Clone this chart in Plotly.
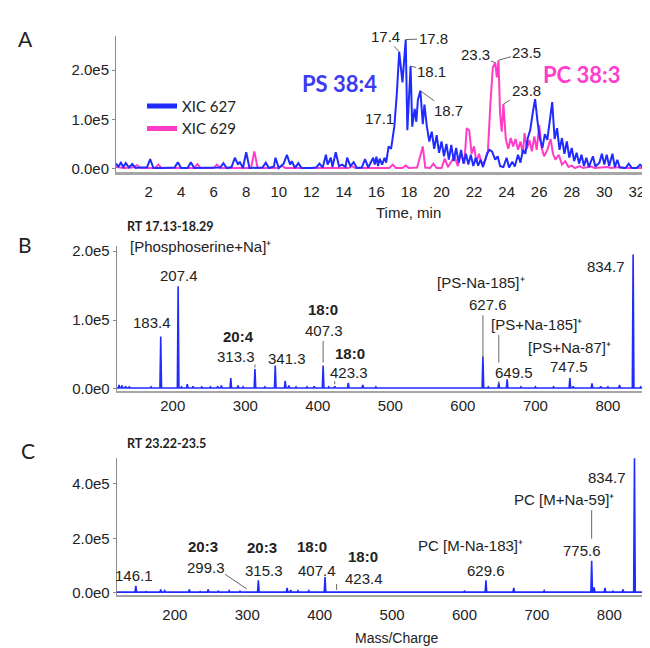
import plotly.graph_objects as go

W, H = 650, 648

# ---------------- data ----------------
# Panel A: extracted ion chromatograms (time in min, intensity in counts)
t627 = [0.0, 0.15, 0.3, 0.45, 0.6, 0.8, 1.0, 1.2, 1.5, 1.9,
        2.1, 2.3, 2.8, 3.4, 3.6, 3.8, 4.0, 4.4, 4.6, 4.8,
        5.5, 6.0, 6.4, 6.6, 6.8, 7.1, 7.3, 7.5, 7.6, 7.8,
        8.0, 8.2, 8.6, 9.0, 9.2, 9.4, 9.7, 9.8, 10.0, 10.3,
        10.5, 10.7, 10.8, 11.0, 11.2, 11.4, 12.0, 12.3, 12.5, 12.7,
        12.9, 13.0, 13.2, 13.3, 13.5, 13.7, 13.9, 14.1, 14.2, 14.4,
        14.6, 14.8, 15.1, 15.3, 15.5, 15.8, 15.9, 16.0, 16.1, 16.2,
        16.35, 16.5, 16.6, 16.75, 16.9, 17.0, 17.1, 17.25, 17.4, 17.6,
        17.8, 17.9, 18.1, 18.2, 18.35, 18.45, 18.55, 18.7, 18.85, 18.95,
        19.1, 19.25, 19.4, 19.55, 19.7, 19.85, 20.0, 20.15, 20.3, 20.45,
        20.6, 20.75, 20.9, 21.05, 21.2, 21.35, 21.5, 21.65, 21.8, 21.95,
        22.1, 22.25, 22.4, 22.55, 22.8, 22.95, 23.1, 23.3, 23.45, 23.6,
        23.8, 24.0, 24.15, 24.35, 24.5, 24.7, 24.85, 25.0, 25.15, 25.3,
        25.45, 25.6, 25.75, 25.9, 26.05, 26.2, 26.35, 26.5, 26.65, 26.8,
        26.95, 27.1, 27.25, 27.4, 27.55, 27.7, 27.85, 28.0, 28.15, 28.3,
        28.45, 28.6, 28.75, 28.9, 29.05, 29.3, 29.45, 29.7, 29.85, 30.0,
        30.15, 30.3, 30.5, 30.65, 30.8, 30.95, 31.3, 31.5, 31.7, 32.0,
        32.2, 32.4, 32.8, 33.2]
xic627 = [10e3, 4e3, 12e3, 3e3, 11e3, 2e3, 9e3, 1e3, 2e3, 2e3,
          19e3, 1e3, 1e3, 1e3, 2e3, 13e3, 1e3, 1e3, 13e3, 1e3,
          1e3, 1e3, 2e3, 11e3, 1e3, 3e3, 22e3, 8e3, 14e3, 1e3,
          33e3, 1e3, 1e3, 2e3, 12e3, 1e3, 4e3, 22e3, 1e3, 10e3,
          28e3, 8e3, 15e3, 1e3, 11e3, 1e3, 1e3, 2e3, 10e3, 2e3,
          28e3, 8e3, 22e3, 3e3, 33e3, 5e3, 8e3, 3e3, 22e3, 5e3,
          13e3, 1e3, 2e3, 19e3, 2e3, 22e3, 8e3, 24e3, 5e3, 20e3,
          8e3, 22e3, 12e3, 45e3, 40e3, 65e3, 85e3, 150e3, 237e3, 175e3,
          262e3, 78e3, 208e3, 85e3, 121e3, 95e3, 140e3, 158e3, 90e3, 130e3,
          85e3, 55e3, 75e3, 40e3, 68e3, 32e3, 55e3, 25e3, 50e3, 18e3,
          48e3, 15e3, 42e3, 12e3, 38e3, 10e3, 30e3, 8e3, 28e3, 5e3,
          22e3, 6e3, 18e3, 3e3, 30e3, 38e3, 35e3, 18e3, 25e3, 5e3,
          3e3, 22e3, 2e3, 14e3, 4e3, 28e3, 12e3, 38e3, 30e3, 62e3,
          78e3, 112e3, 141e3, 95e3, 60e3, 42e3, 70e3, 58e3, 95e3, 135e3,
          60e3, 82e3, 38e3, 62e3, 30e3, 55e3, 22e3, 42e3, 15e3, 32e3,
          10e3, 28e3, 5e3, 22e3, 3e3, 25e3, 4e3, 12e3, 30e3, 8e3,
          28e3, 5e3, 30e3, 3e3, 18e3, 2e3, 1e3, 10e3, 1e3, 1e3,
          8e3, 1e3, 1e3, 6e3]

t629 = [0.0, 0.5, 1.0, 1.3, 1.5, 2.4, 2.6, 2.8, 4.8, 5.0,
        5.2, 6.0, 6.2, 6.4, 8.3, 8.5, 8.7, 10.0, 10.2, 10.4,
        12.4, 14.3, 14.5, 14.7, 16.8, 17.0, 17.2, 17.6, 17.8, 18.0,
        18.5, 18.7, 18.85, 19.0, 19.3, 19.5, 19.7, 20.0, 20.2, 20.4,
        20.6, 20.8, 21.0, 21.2, 21.4, 21.55, 21.7, 21.85, 22.0, 22.15,
        22.3, 22.5, 22.7, 22.85, 23.0, 23.15, 23.3, 23.4, 23.5, 23.6,
        23.7, 23.8, 23.95, 24.1, 24.25, 24.4, 24.55, 24.7, 24.85, 25.0,
        25.1, 25.25, 25.4, 25.55, 25.7, 25.85, 26.0, 26.15, 26.3, 26.5,
        26.7, 26.85, 27.0, 27.2, 27.4, 27.6, 27.8, 28.0, 28.2, 28.5,
        28.7, 29.2, 29.4, 30.2, 30.4, 31.0, 31.2, 33.2]
xic629 = [3e3, 1e3, 2e3, 7e3, 1e3, 1e3, 8e3, 1e3, 1e3, 9e3,
          1e3, 1e3, 8e3, 1e3, 1e3, 35e3, 1e3, 1e3, 6e3, 1e3,
          1e3, 1e3, 5e3, 1e3, 1e3, 8e3, 1e3, 1e3, 6e3, 1e3,
          2e3, 25e3, 45e3, 2e3, 1e3, 10e3, 1e3, 1e3, 20e3, 3e3,
          15e3, 25e3, 5e3, 30e3, 10e3, 82e3, 78e3, 30e3, 45e3, 12e3,
          30e3, 8e3, 18e3, 35e3, 130e3, 205e3, 215e3, 185e3, 220e3, 110e3,
          75e3, 131e3, 60e3, 40e3, 62e3, 45e3, 60e3, 38e3, 55e3, 30e3,
          72e3, 40e3, 58e3, 35e3, 65e3, 38e3, 88e3, 42e3, 25e3, 38e3,
          60e3, 30e3, 18e3, 28e3, 8e3, 15e3, 3e3, 6e3, 1e3, 5e3,
          1e3, 4e3, 1e3, 3e3, 1e3, 3e3, 1e3, 1e3]

# Panel B: MS/MS spectrum, RT 17.13-18.29
ms_b_mz = [126, 130, 135, 140, 150, 160, 170, 183.4, 190, 207.4,
           212, 220, 228, 240, 252, 262, 267, 280, 290, 297,
           313.3, 327, 341.3, 355, 360, 370, 385, 395, 407.3, 415,
           423.3, 442, 462, 480, 520, 560, 600, 627.6, 635, 649.5,
           661, 680, 700, 725, 747.5, 752, 778, 790, 800, 816,
           834.7, 845, 860]
ms_b_int = [6e3, 5e3, 4e3, 3e3, 2e3, 2e3, 3e3, 76e3, 2e3, 149e3,
            3e3, 7e3, 4e3, 3e3, 3e3, 4e3, 5e3, 16e3, 5e3, 3e3,
            29e3, 3e3, 34e3, 12e3, 5e3, 3e3, 3e3, 4e3, 34e3, 3e3,
            4e3, 9e3, 6e3, 3e3, 2e3, 2e3, 2e3, 47e3, 3e3, 9e3,
            14e3, 3e3, 3e3, 3e3, 16e3, 4e3, 8e3, 4e3, 3e3, 6e3,
            195e3, 3e3, 2e3]

# Panel C: MS/MS spectrum, RT 23.22-23.5
ms_c_mz = [130, 146.1, 160, 180.5, 186, 200, 220, 235, 246, 260,
           275, 290, 299.3, 315.3, 330, 355, 360, 370, 385, 407.4,
           423.4, 440, 460, 480, 500, 520, 550, 580, 600, 629.6,
           645, 668, 690, 710, 730, 750, 775.6, 779, 794, 805,
           818.8, 834.7, 850, 860]
ms_c_int = [4e3, 26e3, 5e3, 12e3, 8e3, 4e3, 12e3, 5e3, 12e3, 6e3,
            8e3, 6e3, 5e3, 46e3, 4e3, 18e3, 10e3, 8e3, 8e3, 58e3,
            4e3, 5e3, 5e3, 4e3, 5e3, 4e3, 4e3, 4e3, 6e3, 46e3,
            4e3, 18e3, 4e3, 8e3, 4e3, 5e3, 118e3, 20e3, 18e3, 6e3,
            12e3, 493e3, 4e3, 3e3]

time_ticks = list(range(2, 33, 2))
mz_ticks = [200, 300, 400, 500, 600, 700, 800]
a_yticks = [0, 1e5, 2e5]
a_ylabels = ["0.0e0", "1.0e5", "2.0e5"]
b_yticks = [0, 1e5, 2e5]
b_ylabels = ["0.0e0", "1.0e5", "2.0e5"]
c_yticks = [0, 2e5, 4e5]
c_ylabels = ["0.0e0", "2.0e5", "4.0e5"]

# ---------------- style / layout ----------------
BLUE = "#1f2bff"
PINK = "#ff3cc8"
NUM = "Liberation Sans, Arial, sans-serif"
CAL = "Lato, Open Sans, sans-serif"
AXC = "#8c8c8c"
FS = 15

P = {
    "A": dict(xd=(108, 650), xr=(0, 33.3), yd=(24, 163), yr=(-8000, 270000), xa="x", ya="y"),
    "B": dict(xd=(108.7, 650), xr=(122.7, 869), yd=(238, 385), yr=(-3000, 207000), xa="x2", ya="y2"),
    "C": dict(xd=(108.7, 650), xr=(119.7, 867.2), yd=(453, 592), yr=(-7200, 494000), xa="x3", ya="y3"),
}


def px_x(p, v):
    d = P[p]
    return d["xd"][0] + (v - d["xr"][0]) / (d["xr"][1] - d["xr"][0]) * (d["xd"][1] - d["xd"][0])


def px_y(p, v):
    d = P[p]
    return d["yd"][1] - (v - d["yr"][0]) / (d["yr"][1] - d["yr"][0]) * (d["yd"][1] - d["yd"][0])


def data_x(p, px):
    d = P[p]
    return d["xr"][0] + (px - d["xd"][0]) / (d["xd"][1] - d["xd"][0]) * (d["xr"][1] - d["xr"][0])


def profile(mz, inten, lo, hi, floor, half=1.1):
    xs, ys = [lo], [floor]
    for m, v in sorted(zip(mz, inten)):
        xs += [m - half, m, m + half]
        ys += [floor, v, floor]
    xs.append(hi)
    ys.append(floor)
    return xs, ys


fig = go.Figure()

# Panel A traces
fig.add_trace(go.Scatter(x=t629, y=xic629, mode="lines", line=dict(color=PINK, width=2),
                         name="XIC 629", showlegend=False, xaxis="x", yaxis="y"))
fig.add_trace(go.Scatter(x=t627, y=xic627, mode="lines", line=dict(color=BLUE, width=2),
                         name="XIC 627", showlegend=False, xaxis="x", yaxis="y"))
# legend entries
fig.add_trace(go.Scatter(x=[None], y=[None], mode="lines", line=dict(color=BLUE, width=5),
                         name="XIC 627", xaxis="x", yaxis="y"))
fig.add_trace(go.Scatter(x=[None], y=[None], mode="lines", line=dict(color=PINK, width=5),
                         name="XIC 629", xaxis="x", yaxis="y"))

# Panel B and C spectra
bx, by = profile(ms_b_mz, ms_b_int, P["B"]["xr"][0], P["B"]["xr"][1], 1500)
fig.add_trace(go.Scatter(x=bx, y=by, mode="lines", line=dict(color=BLUE, width=1.6),
                         showlegend=False, xaxis="x2", yaxis="y2"))
cx, cy = profile(ms_c_mz, ms_c_int, P["C"]["xr"][0], P["C"]["xr"][1], 3000)
fig.add_trace(go.Scatter(x=cx, y=cy, mode="lines", line=dict(color=BLUE, width=1.6),
                         showlegend=False, xaxis="x3", yaxis="y3"))


def xdom(p):
    return [P[p]["xd"][0] / W, P[p]["xd"][1] / W]


def ydom(p):
    return [1 - P[p]["yd"][1] / H, 1 - P[p]["yd"][0] / H]


def xaxis_style(p, ticks, standoff, lw):
    return dict(domain=xdom(p), range=list(P[p]["xr"]), tickvals=ticks, showline=True,
                linecolor="#a6a6a6", linewidth=lw, ticks="", showgrid=False, zeroline=False,
                tickfont=dict(family=NUM, size=FS, color="#222"), ticklabelstandoff=standoff,
                anchor=P[p]["ya"], fixedrange=True)


def yaxis_style(p, vals, labels):
    return dict(domain=ydom(p), range=list(P[p]["yr"]), tickvals=vals, ticktext=labels,
                showline=True, linecolor=AXC, linewidth=1, ticks="outside", ticklen=3,
                tickcolor=AXC, showgrid=False, zeroline=False,
                tickfont=dict(family=NUM, size=FS, color="#222"), anchor=P[p]["xa"], fixedrange=True)


fig.update_layout(
    width=W, height=H, margin=dict(l=0, r=0, t=0, b=0),
    paper_bgcolor="white", plot_bgcolor="white",
    xaxis=xaxis_style("A", time_ticks, 4, 3),
    yaxis=yaxis_style("A", a_yticks, a_ylabels),
    xaxis2=xaxis_style("B", mz_ticks, 0, 1.5),
    yaxis2=yaxis_style("B", b_yticks, b_ylabels),
    xaxis3=xaxis_style("C", mz_ticks, 5, 1.5),
    yaxis3=yaxis_style("C", c_yticks, c_ylabels),
    legend=dict(x=134 / W, y=1 - 79 / H, xanchor="left", yanchor="top",
                bgcolor="rgba(0,0,0,0)", font=dict(family=CAL, size=15, color="#222"),
                itemwidth=30, tracegroupgap=0),
    showlegend=True,
)

ann = []


def paper_text(text, px, py, size=FS, family=NUM, color="#222", bold=False, xanchor="center"):
    if bold:
        text = "<b>" + text + "</b>"
    ann.append(dict(xref="paper", yref="paper", x=px / W, y=1 - py / H, text=text,
                    showarrow=False, xanchor=xanchor, yanchor="middle",
                    font=dict(family=family, size=size, color=color)))


def arrow_label(p, text, px, py, hx, hy, size=FS):
    ann.append(dict(xref=P[p]["xa"], yref=P[p]["ya"], x=hx, y=hy,
                    ax=px - px_x(p, hx), ay=py - px_y(p, hy), text=text,
                    showarrow=True, arrowhead=0, arrowwidth=0.9, arrowcolor="#555",
                    standoff=0, startstandoff=0,
                    font=dict(family=NUM, size=size, color="#222")))


def lookup(xs, ys, key):
    return ys[xs.index(key)]


# panel letters, RT headers, axis titles
paper_text("A", 17, 27, size=21, family=CAL)
paper_text("B", 17, 236, size=21, family=CAL)
paper_text("C", 20, 445, size=21, family=CAL)
paper_text("RT 17.13-18.29", 117, 218, size=12.5, family=CAL, bold=True, xanchor="left")
paper_text("RT 23.22-23.5", 117, 438, size=12.5, family=CAL, bold=True, xanchor="left")
paper_text("Time, min", 400, 204, size=FS)
paper_text("Mass/Charge", 388, 636, size=14)
paper_text("PS 38:4", 331, 73, size=22, family=CAL, color="#3a3af2", bold=True)
paper_text("PC 38:3", 573, 63, size=22, family=CAL, color="#ff3ccf", bold=True)

# Panel A peak labels
for txt, px, py, tt, series in [
    ("17.4", 377, 25, 17.4, "627"), ("17.8", 425, 27, 17.8, "627"),
    ("18.1", 424, 60, 18.1, "627"), ("18.7", 440, 100, 18.7, "627"),
    ("17.1", 372, 108, 17.1, "627"), ("23.3", 467, 43, 23.3, "629"),
    ("23.5", 519, 41, 23.5, "629"), ("23.8", 518, 80, 23.8, "629"),
]:
    if series == "627":
        hv = lookup(t627, xic627, tt)
    else:
        hv = lookup(t629, xic629, tt)
    arrow_label("A", txt, px, py, tt, hv)

# Panel B labels
paper_text("[Phosphoserine+Na]⁺", 192, 238)
paper_text("207.4", 171, 268)
paper_text("183.4", 144, 315)
paper_text("20:4", 230, 330, bold=True)
paper_text("313.3", 228, 350)
paper_text("341.3", 279, 352)
paper_text("18:0", 315, 302, bold=True)
paper_text("407.3", 316, 323)
paper_text("18:0", 342, 347, bold=True)
paper_text("423.3", 341, 366)
paper_text("[PS-Na-185]⁺", 473, 275)
paper_text("627.6", 480, 297)
paper_text("[PS+Na-185]⁺", 528, 317)
paper_text("649.5", 506, 366)
paper_text("[PS+Na-87]⁺", 561, 341)
paper_text("747.5", 561, 360)
paper_text("834.7", 598, 258)

# Panel C labels
paper_text("146.1", 126, 572)
paper_text("20:3", 195, 543, bold=True)
paper_text("299.3", 198, 564)
paper_text("20:3", 254, 544, bold=True)
paper_text("315.3", 256, 567)
paper_text("18:0", 304, 543, bold=True)
paper_text("407.4", 309, 567)
paper_text("18:0", 355, 553, bold=True)
paper_text("423.4", 356, 575)
paper_text("PC [M-Na-183]⁺", 462, 542)
paper_text("629.6", 478, 567)
paper_text("PC [M+Na-59]⁺", 556, 495)
paper_text("775.6", 574, 547)
paper_text("834.7", 599, 473)

# connector lines (vertical at the peak m/z)
shapes = []


def vline(p, mz, py0, py1, dash="solid"):
    shapes.append(dict(type="line", xref=P[p]["xa"], yref="paper", x0=mz, x1=mz,
                       y0=1 - py0 / H, y1=1 - py1 / H,
                       line=dict(color="#555", width=0.9, dash=dash)))


vline("B", 407.3, 334, 356)
vline("B", 627.6, 308, 352)
vline("B", 649.5, 328, 356)
vline("B", 313.3, 358, 362, "dot")
vline("B", 423.3, 375, 379, "dot")
vline("B", 649.5, 375, 379, "dot")
vline("C", 775.6, 506, 535)
vline("C", 423.4, 581, 587)
shapes.append(dict(type="line", xref="x3", yref="paper", x0=data_x("C", 217), x1=299.3,
                   y0=1 - 571 / H, y1=1 - 586 / H, line=dict(color="#555", width=0.9)))

fig.update_layout(annotations=ann, shapes=shapes)

fig.write_html("out.html")
